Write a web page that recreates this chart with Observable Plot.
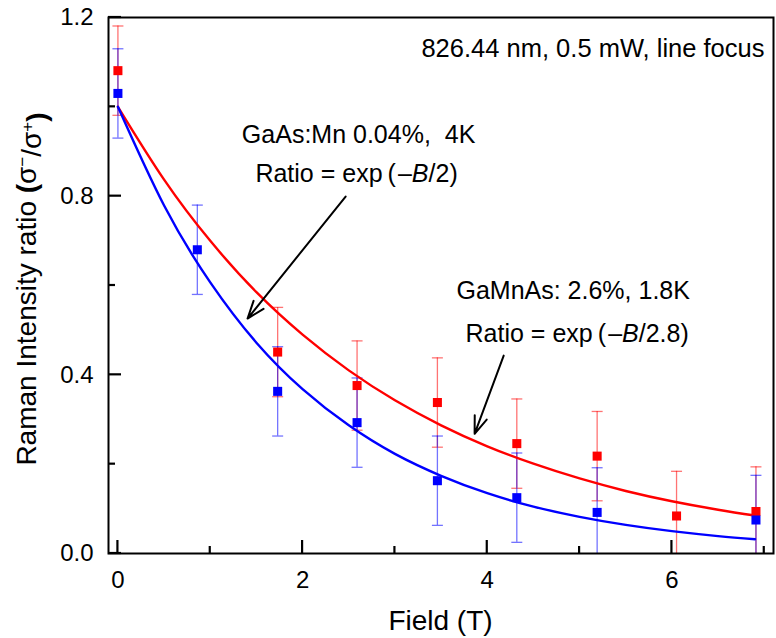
<!DOCTYPE html>
<html><head><meta charset="utf-8">
<script src="https://cdn.jsdelivr.net/npm/d3@7"></script>
<script src="https://cdn.jsdelivr.net/npm/@observablehq/plot@0.6"></script>
<style>body{margin:0;background:#fff;} svg{display:block;}</style>
</head><body><div id="chart"></div>
<script>
// ---- data ----
const redField  = [0, 1.73, 2.59, 3.46, 4.32, 5.19, 6.05, 6.91];
const redRatio  = [1.081, 0.451, 0.376, 0.338, 0.246, 0.218, 0.084, 0.094];
const redErr    = [0.10, 0.10, 0.10, 0.10, 0.10, 0.10, 0.10, 0.10];
const blueField = [0, 0.86, 1.73, 2.59, 3.46, 4.32, 5.19, 6.91];
const blueRatio = [1.030, 0.680, 0.363, 0.293, 0.163, 0.125, 0.092, 0.075];
const blueErr   = [0.10, 0.10, 0.10, 0.10, 0.10, 0.10, 0.10, 0.10];
// fitted curves (sampled)
const fitField = [0, 0.5, 1, 1.5, 2, 2.5, 3, 3.5, 4, 4.5, 5, 5.5, 6, 6.5, 6.9];
const fitBlue  = [1.000, 0.779, 0.607, 0.472, 0.368, 0.287, 0.223, 0.174, 0.135, 0.105, 0.082, 0.064, 0.050, 0.039, 0.032];
const fitRed   = [1.000, 0.837, 0.700, 0.585, 0.490, 0.410, 0.343, 0.287, 0.240, 0.201, 0.168, 0.140, 0.117, 0.098, 0.085];
// ticks
const xMajor = [0, 2, 4, 6];
const xMinor = [1, 3, 5, 7];
const yMajor = [0, 0.4, 0.8, 1.2];
const yMinor = [0.2, 0.6, 1.0];
// annotation arrows (data coords)
const arrowX1 = [2.466, 4.178];
const arrowY1 = [0.799, 0.443];
const arrowX2 = [1.404, 3.863];
const arrowY2 = [0.526, 0.268];
// annotation texts (*B* = italic)
const noteText = ["826.44 nm, 0.5 mW, line focus", "GaAs:Mn 0.04%,  4K", "Ratio = exp\u2009(\u200A–*B*/2)", "GaMnAs: 2.6%, 1.8K", "Ratio = exp\u2009(\u200A–*B*/2.8)"];
const noteX = [5.150, 2.612, 2.590, 4.936, 4.979];
const noteY = [1.110, 0.918, 0.831, 0.569, 0.472];
const xTitle = "Field (T)";

const RED = "#ff0000", BLUE = "#0000ff";
const FONT = "'Liberation Sans', Arial, Helvetica, sans-serif";

const mk = (xs, ys, es) => xs.map((x, i) => ({x, y: ys[i], e: es ? es[i] : 0}));
const red = mk(redField, redRatio, redErr);
const blue = mk(blueField, blueRatio, blueErr);
const fitB = fitField.map((x, i) => ({x, y: fitBlue[i]}));
const fitR = fitField.map((x, i) => ({x, y: fitRed[i]}));
const caps = (d) => d.flatMap(p => [{x: p.x, y: p.y + p.e}, {x: p.x, y: p.y - p.e}]);
const arrows = arrowX1.map((x1, i) => ({x1, y1: arrowY1[i], x2: arrowX2[i], y2: arrowY2[i]}));

const capSymbol = {draw(ctx, size) { const r = Math.sqrt(size / Math.PI); ctx.moveTo(-r, 0); ctx.lineTo(r, 0); }};

function errMarks(d, color) {
  return [
    Plot.ruleX(d, {x: "x", y1: p => p.y - p.e, y2: p => p.y + p.e, stroke: color, strokeOpacity: 0.55, strokeWidth: 1.3, clip: true}),
    Plot.dot(caps(d), {x: "x", y: "y", symbol: capSymbol, r: 5.5, fill: "none", stroke: color, strokeOpacity: 0.55, strokeWidth: 1.3, clip: true})
  ];
}

const plot = Plot.plot({
  width: 776, height: 638,
  marginLeft: 108, marginRight: 3, marginTop: 17, marginBottom: 85,
  style: {fontFamily: FONT, fontSize: "24px", color: "black", background: "white"},
  x: {domain: [-0.102, 7.1]},
  y: {domain: [0, 1.2]},
  marks: [
    ...errMarks(red, RED),
    ...errMarks(blue, BLUE),
    Plot.line(fitR, {x: "x", y: "y", stroke: RED, strokeWidth: 2.4, curve: "natural"}),
    Plot.line(fitB, {x: "x", y: "y", stroke: BLUE, strokeWidth: 2.4, curve: "natural"}),
    Plot.dot(red, {x: "x", y: "y", symbol: "square", r: 5.1, fill: RED}),
    Plot.dot(blue, {x: "x", y: "y", symbol: "square", r: 5.1, fill: BLUE}),
    Plot.arrow(arrows, {x1: "x1", y1: "y1", x2: "x2", y2: "y2", stroke: "black", strokeWidth: 2, headLength: 14, headAngle: 40}),
    Plot.axisX({ticks: xMajor, tickSize: 0, tickPadding: 17, label: null, fontSize: 24, tickFormat: d3.format("d")}),
    Plot.axisY({ticks: yMajor, tickSize: 0, tickPadding: 15, label: null, fontSize: 24, tickFormat: d3.format(".1f")}),
    Plot.frame({stroke: "black", strokeWidth: 2})
  ]
});

document.getElementById("chart").appendChild(plot);

const svg = d3.select(plot);
const sx = plot.scale("x"), sy = plot.scale("y");
const [xr0, xr1] = sx.range, [yr0, yr1] = sy.range;
const bottom = Math.max(yr0, yr1), left = Math.min(xr0, xr1);

// inward ticks, positioned with Plot's scales
const tg = svg.append("g").attr("stroke", "black").attr("stroke-width", 2.2);
[[xMajor, 13], [xMinor, 7]].forEach(([vals, len]) => vals.forEach(v => {
  const px = sx.apply(v);
  tg.append("line").attr("x1", px).attr("x2", px).attr("y1", bottom).attr("y2", bottom - len);
}));
[[yMajor, 13], [yMinor, 7]].forEach(([vals, len]) => vals.forEach(v => {
  const py = sy.apply(v);
  tg.append("line").attr("y1", py).attr("y2", py).attr("x1", left).attr("x2", left + len);
}));

// annotations
noteText.forEach((t, i) => {
  const txt = svg.append("text")
    .attr("x", sx.apply(noteX[i])).attr("y", sy.apply(noteY[i]))
    .attr("text-anchor", "middle")
    .style("font-family", FONT).style("font-size", i === 0 ? "25.5px" : "25px").attr("fill", "black");
  t.split("*").forEach((seg, j) => {
    if (!seg) return;
    const ts = txt.append("tspan").text(seg);
    if (j % 2 === 1) ts.style("font-style", "italic");
  });
});

// axis titles
svg.append("text")
  .attr("x", (xr0 + xr1) / 2).attr("y", 630)
  .attr("text-anchor", "middle")
  .style("font-family", FONT).style("font-size", "28px").attr("fill", "black")
  .text(xTitle);

const yt = svg.append("text")
  .attr("transform", `translate(36,${(yr0 + yr1) / 2 + 4}) rotate(-90)`)
  .attr("text-anchor", "middle")
  .style("font-family", FONT).style("font-size", "28px").attr("fill", "black");
yt.append("tspan").text("Raman Intensity ratio ");
yt.append("tspan").text("(").style("font-weight", "bold");
yt.append("tspan").text("σ");
yt.append("tspan").text("−").attr("dy", "-0.45em").style("font-size", "17px");
yt.append("tspan").text("/σ").attr("dy", "0.45em");
yt.append("tspan").text("+").attr("dy", "-0.45em").style("font-size", "17px");
yt.append("tspan").text(")").attr("dy", "0.45em").style("font-weight", "bold");
</script>
</body></html>
